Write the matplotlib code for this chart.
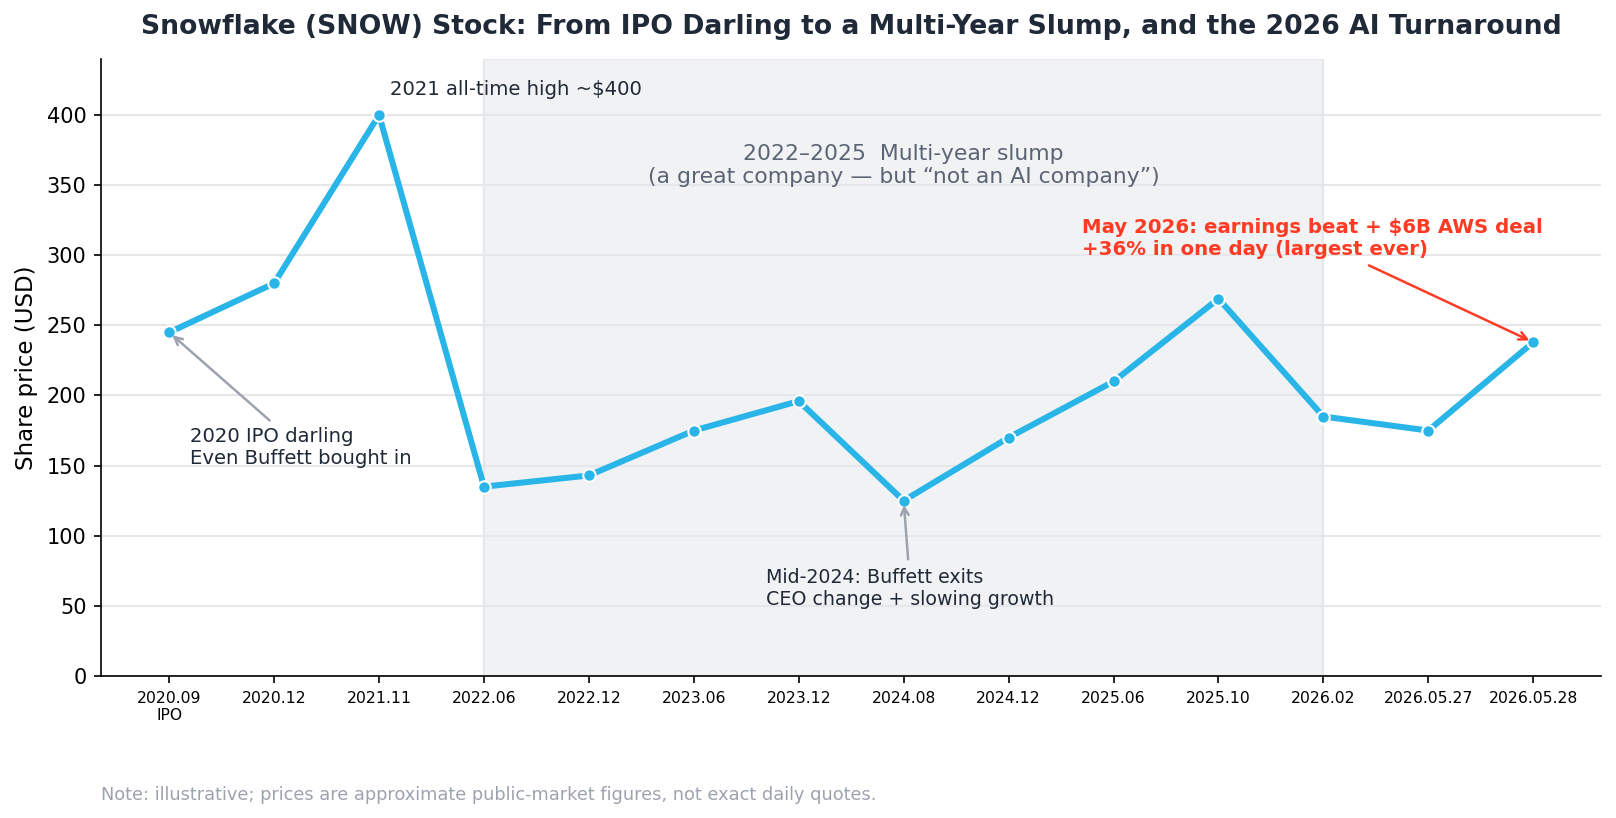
import numpy as np
import matplotlib.pyplot as plt

labels = ["2020.09\nIPO", "2020.12", "2021.11", "2022.06", "2022.12", "2023.06", "2023.12",
          "2024.08", "2024.12", "2025.06", "2025.10", "2026.02", "2026.05.27", "2026.05.28"]
prices = [245, 280, 400, 135, 143, 175, 196, 125, 170, 210, 269, 185, 175, 238]
slump_start, slump_end = 3, 11

blue = '#29b5e8'
dark = '#1f2937'
gray = '#9ca3af'
red = '#ff3b24'

fig = plt.figure(figsize=(1616/150, 818/150), dpi=150)
ax = fig.add_axes([0.0625, 0.1736, 0.9285, 0.7544])

x = np.arange(len(prices))
ax.axvspan(slump_start, slump_end, color='#f1f2f4', ec='#e4e6ea', lw=1, zorder=0)
ax.plot(x, prices, color=blue, lw=2.9, marker='o', ms=6, mfc=blue, mec='white', mew=1, zorder=3)

ax.set_xlim(-0.65, len(prices) - 0.35)
ax.set_ylim(0, 440)
ax.set_xticks(x)
ax.set_xticklabels(labels, fontsize=7.5)
ax.tick_params(axis='y', labelsize=10)
ax.set_yticks(np.arange(0, 401, 50))
ax.grid(axis='y', color='#e5e7eb', lw=1)
ax.set_axisbelow(True)
for s in ['top', 'right']:
    ax.spines[s].set_visible(False)

ax.set_ylabel("Share price (USD)", fontsize=11)
ax.set_title("Snowflake (SNOW) Stock: From IPO Darling to a Multi-Year Slump, and the 2026 AI Turnaround",
             fontsize=12.8, fontweight='bold', color=dark, pad=12)

ax.text(2.1, 418, "2021 all-time high ~$400", fontsize=9.4, color=dark, va='center')
ax.text(7.0, 364, "2022\u20132025  Multi-year slump\n(a great company \u2014 but \u201cnot an AI company\u201d)",
        fontsize=10.5, color='#5b6474', ha='center', va='center')

ax.annotate("2020 IPO darling\nEven Buffett bought in", xy=(0, prices[0]), xytext=(0.2, 148),
            fontsize=9.4, color=dark, ha='left', va='bottom',
            arrowprops=dict(arrowstyle='->', color=gray, lw=1.2))
ax.annotate("Mid-2024: Buffett exits\nCEO change + slowing growth", xy=(7, prices[7]), xytext=(5.69, 48),
            fontsize=9.1, color=dark, ha='left', va='bottom',
            arrowprops=dict(arrowstyle='->', color=gray, lw=1.2))
ax.annotate("May 2026: earnings beat + $6B AWS deal\n+36% in one day (largest ever)",
            xy=(13, prices[13]), xytext=(8.7, 297),
            fontsize=9.5, color=red, fontweight='bold', ha='left', va='bottom',
            arrowprops=dict(arrowstyle='->', color=red, lw=1.2))

fig.text(0.0625, 0.022, "Note: illustrative; prices are approximate public-market figures, not exact daily quotes.",
         fontsize=8.5, color=gray)

fig.savefig("out.png", dpi=150)
